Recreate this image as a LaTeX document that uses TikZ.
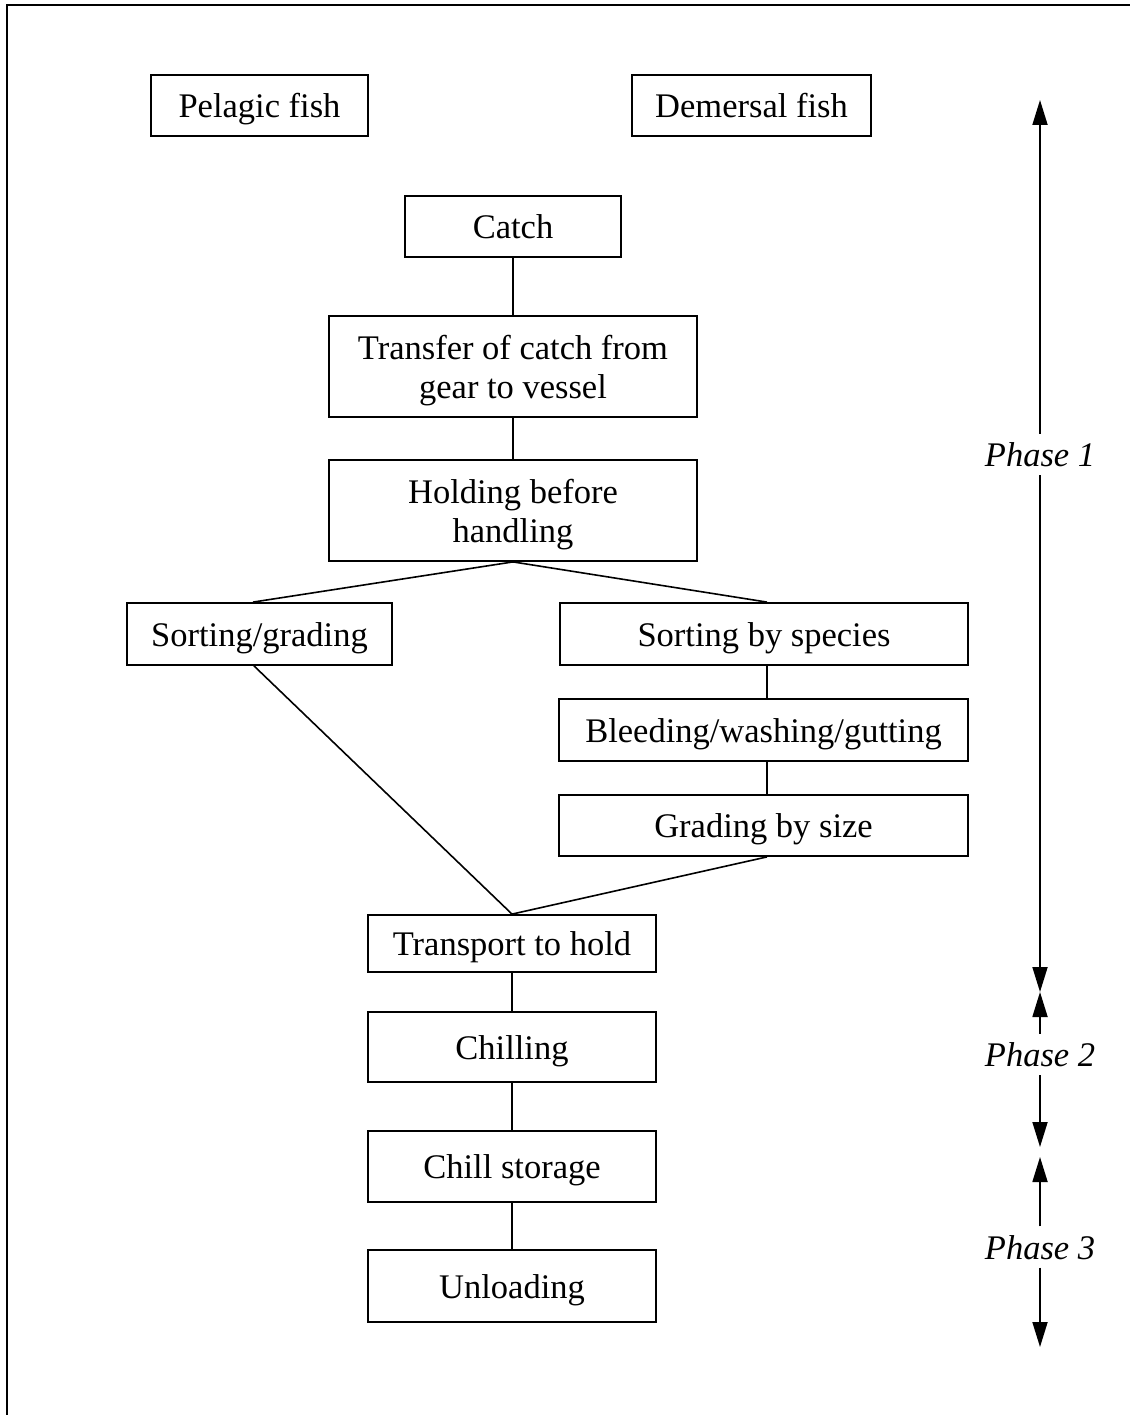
\documentclass[tikz,border=0pt]{standalone}
\usepackage{fontspec}
\setmainfont{Liberation Serif}
\usetikzlibrary{arrows.meta,calc}
\begin{document}
\begin{tikzpicture}[x=1pt,y=-1pt,
  boxfont/.style={font=\fontsize{34.5pt}{39.5pt}\selectfont},
  box/.style={draw,line width=1.8pt,inner sep=0pt,boxfont,text height=24pt,text depth=0pt,anchor=center},
  txt/.style={inner sep=0pt,align=center,boxfont},
  conn/.style={line width=1.6pt},
  phase/.style={font=\fontsize{34.5pt}{39.5pt}\selectfont\itshape,text height=24pt,text depth=0pt,inner xsep=0pt,inner ysep=8.5pt},
  parrow/.style={line width=1.8pt,-{Triangle[length=25pt,width=15pt]}}]

\useasboundingbox (0,0) rectangle (1130,1415);
\draw[line width=2pt] (7,1415) -- (7,5) -- (1130,5);

% top labels
\node[box,minimum width=217pt,minimum height=61pt] (pel) at (259.5,105.5) {Pelagic fish};
\node[box,minimum width=239pt,minimum height=61pt] (dem) at (751.5,105.5) {Demersal fish};

% main flow
\node[box,minimum width=216pt,minimum height=61pt] (catch) at (513,226.5) {Catch};
\node[box,minimum width=368pt,minimum height=101pt] (trans) at (513,366.5) {};
\node[txt] (trans-t) at ($(trans.center)+(0,4)$) {Transfer of catch from\\gear to vessel};
\node[box,minimum width=368pt,minimum height=101pt] (hold) at (513,510.5) {};
\node[txt] (hold-t) at ($(hold.center)+(0,4)$) {Holding before\\handling};

\node[box,minimum width=265pt,minimum height=62pt] (sg) at (259.5,634) {Sorting/grading};
\node[box,minimum width=408pt,minimum height=62pt] (sbs) at (764,634) {Sorting by species};
\node[box,minimum width=409pt,minimum height=62pt] (bleed) at (763.5,730) {Bleeding/washing/gutting};
\node[box,minimum width=409pt,minimum height=61pt] (gbs) at (763.5,825.5) {Grading by size};

\node[box,minimum width=288pt,minimum height=57pt] (tth) at (512,943.5) {Transport to hold};
\node[box,minimum width=288pt,minimum height=70pt] (chill) at (512,1047) {Chilling};
\node[box,minimum width=288pt,minimum height=71pt] (cs) at (512,1166.5) {Chill storage};
\node[box,minimum width=288pt,minimum height=72pt] (unl) at (512,1286) {Unloading};

% connectors
\draw[conn] (catch.south) -- (trans.north);
\draw[conn] (trans.south) -- (hold.north);
\draw[conn] (hold.south) -- ($(sg.north)+(-6.5,0)$);
\draw[conn] (hold.south) -- ($(sbs.north)+(3,0)$);
\draw[conn] ($(sbs.south)+(3,0)$) -- ($(bleed.north)+(3.5,0)$);
\draw[conn] ($(bleed.south)+(3.5,0)$) -- ($(gbs.north)+(3.5,0)$);
\draw[conn] ($(sg.south)+(-5.5,0)$) -- (tth.north);
\draw[conn] ($(gbs.south)+(3.5,0)$) -- (tth.north);
\draw[conn] (tth.south) -- (chill.north);
\draw[conn] (chill.south) -- (cs.north);
\draw[conn] (cs.south) -- (unl.north);

% phases
\node[phase] (p1) at (1040,454.5) {Phase 1};
\node[phase] (p2) at (1040,1054.5) {Phase 2};
\node[phase] (p3) at (1040,1247) {Phase 3};
\coordinate (p1top) at (1040,100);
\coordinate (p12) at (1040,992);
\coordinate (p23a) at (1040,1147);
\coordinate (p23b) at (1040,1157);
\coordinate (p3bot) at (1040,1347);
\draw[parrow] (p1.north) -- (p1top);
\draw[parrow] (p1.south) -- (p12);
\draw[parrow] (p2.north) -- (p12);
\draw[parrow] (p2.south) -- (p23a);
\draw[parrow] (p3.north) -- (p23b);
\draw[parrow] (p3.south) -- (p3bot);
\end{tikzpicture}
\end{document}
